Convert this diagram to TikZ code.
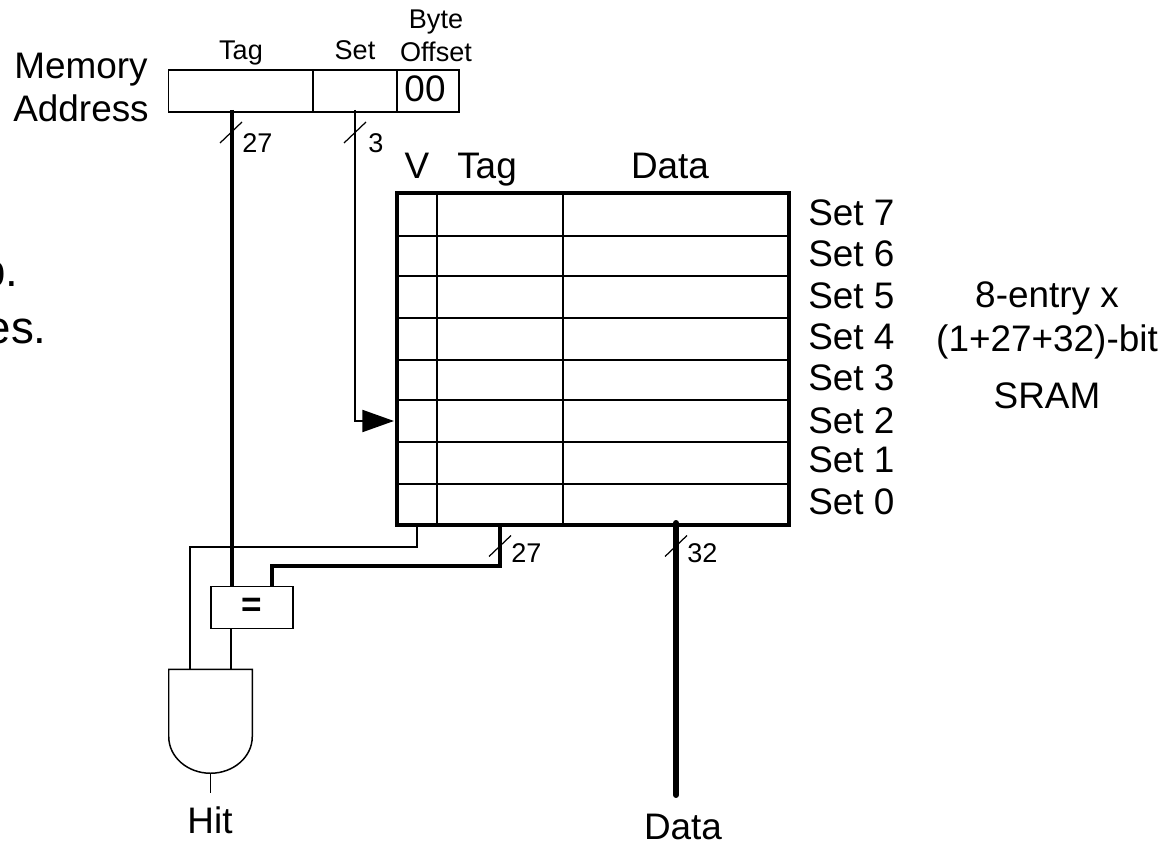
\documentclass[tikz,border=0pt]{standalone}
\usepackage{fontspec}
\setmainfont{Liberation Sans}
\usetikzlibrary{arrows.meta, positioning}

\tikzset{
    biglabel/.style={font=\fontsize{21}{25}\selectfont, inner sep=0, anchor=base},
    smalllabel/.style={font=\fontsize{15.4}{19.3}\selectfont, inner sep=0, anchor=base},
    field/.style={draw, rectangle, line width=0.9pt, inner sep=0, outer sep=0, minimum height=0.84cm},
    thinwire/.style={line width=0.85pt},
    midwire/.style={line width=1.2pt},
    buswire/.style={line width=1.9pt},
    fatwire/.style={line width=3.4pt, line cap=round},
    busmark/.style={line width=0.7pt},
    rowline/.style={line width=0.75pt}
}

\begin{document}
\begin{tikzpicture}
    \useasboundingbox (0,0) rectangle (23.3,-16.86);

    % Address fields
    \node[field, minimum width=2.89cm] (tagfield) at (4.815,-1.82) {};
    \node[field, minimum width=1.68cm, right=0 of tagfield] (setfield) {};
    \node[field, minimum width=1.24cm, right=0 of setfield] (offsetfield) {};

    \node[biglabel, align=center] (memaddr) at (1.62,-2.44) {Memory\\Address};
    \node[smalllabel] (taglabel) at (4.82,-1.2) {Tag};
    \node[smalllabel] (setlabel) at (7.1,-1.2) {Set};
    \node[smalllabel, align=center] (offsetlabel) at (8.72,-1.24) {Byte\\Offset};
    \node[biglabel] (zeros) at (8.5,-2.04) {00};

    % Cut off text on the left
    \node[biglabel, font=\fontsize{26}{26}\selectfont, anchor=base east] (cutone) at (0.38,-5.72) {p.};
    \node[biglabel, font=\fontsize{26}{26}\selectfont, anchor=base east] (cuttwo) at (0.94,-6.86) {es.};

    % Table
    \node[draw, rectangle, line width=1.9pt, inner sep=0, outer sep=0, minimum width=7.84cm, minimum height=6.64cm] (sram) at (11.86,-7.18) {};
    \draw[rowline] (7.94,-4.72) -- (15.78,-4.72);
    \draw[rowline] (7.94,-5.52) -- (15.78,-5.52);
    \draw[rowline] (7.94,-6.36) -- (15.78,-6.36);
    \draw[rowline] (7.94,-7.2) -- (15.78,-7.2);
    \draw[rowline] (7.94,-8) -- (15.78,-8);
    \draw[rowline] (7.94,-8.84) -- (15.78,-8.84);
    \draw[rowline] (7.94,-9.68) -- (15.78,-9.68);
    \draw[thinwire] (8.74,-3.86) -- (8.74,-10.5);
    \draw[thinwire] (11.26,-3.86) -- (11.26,-10.5);

    \node[biglabel] (vhead) at (8.34,-3.56) {V};
    \node[biglabel] (taghead) at (9.74,-3.56) {Tag};
    \node[biglabel] (datahead) at (13.4,-3.56) {Data};

    \node[biglabel, anchor=base west] (set7) at (16.16,-4.5) {Set 7};
    \node[biglabel, anchor=base west] (set6) at (16.16,-5.32) {Set 6};
    \node[biglabel, anchor=base west] (set5) at (16.16,-6.16) {Set 5};
    \node[biglabel, anchor=base west] (set4) at (16.16,-6.98) {Set 4};
    \node[biglabel, anchor=base west] (set3) at (16.16,-7.8) {Set 3};
    \node[biglabel, anchor=base west] (set2) at (16.16,-8.66) {Set 2};
    \node[biglabel, anchor=base west] (set1) at (16.16,-9.44) {Set 1};
    \node[biglabel, anchor=base west] (set0) at (16.16,-10.28) {Set 0};

    \node[biglabel, align=center] (sramlabel) at (20.94,-8.16) {8-entry x\\(1+27+32)-bit\\[7pt]SRAM};

    % Comparator and gate
    \node[field] (eqbox) at (5.04,-12.15) [minimum width=1.65cm] {\fontsize{20}{20}\selectfont\bfseries =};
    \node[inner sep=0, outer sep=0, minimum width=1.67cm, minimum height=1.35cm] (andgate) at (4.21,-14.06) {};
    \draw[thinwire] (andgate.south west) -- (andgate.north west) -- (andgate.north east) -- (andgate.south east)
        arc[start angle=0, end angle=-180, x radius=0.835, y radius=0.73];
    \coordinate (gateout) at ([yshift=-0.73cm]andgate.south);

    \node[biglabel] (hit) at (4.2,-16.66) {Hit};
    \node[biglabel] (dataout) at (13.66,-16.78) {Data};

    % Points on the wires
    \coordinate (tagtap) at (4.64,-2.2);
    \coordinate (settap) at (7.1,-2.2);
    \coordinate (setturn) at (7.1,-8.42);
    \coordinate (settip) at (7.88,-8.42);
    \coordinate (vtap) at (8.34,-10.5);
    \coordinate (vturn) at (3.8,-10.94);
    \coordinate (cmptap) at (10,-10.5);
    \coordinate (cmpturn) at (5.44,-11.32);
    \coordinate (eqout) at (4.62,-12.56);
    \coordinate (datatap) at (13.52,-10.46);
    \coordinate (dataend) at (13.52,-15.9);

    % Arrows
    \draw[buswire] (tagtap) -- (tagtap |- eqbox.north);
    \draw[midwire, -{Triangle[length=18pt, width=12.5pt]}] (settap) |- (setturn) -- (settip);
    \draw[thinwire] (vtap) |- (vturn) -- (vturn |- andgate.north);
    \draw[buswire] (cmptap) |- (cmpturn) -- (cmpturn |- eqbox.north);
    \draw[fatwire] (datatap) -- (dataend);
    \draw[thinwire] (eqout) -- (eqout |- andgate.north);
    \draw[thinwire, shorten >=0.26cm] (gateout) -- (hit.north -| gateout);

    % Bus marks and widths
    \draw[busmark] (4.62,-2.65) ++(-0.22,-0.21) -- ++(0.44,0.42);
    \node[smalllabel, anchor=base west] (tagwidth) at (4.84,-3.04) {27};
    \draw[busmark] (7.1,-2.65) ++(-0.22,-0.21) -- ++(0.44,0.42);
    \node[smalllabel, anchor=base west] (setwidth) at (7.36,-3.04) {3};
    \draw[busmark] (10,-10.92) ++(-0.22,-0.21) -- ++(0.44,0.42);
    \node[smalllabel, anchor=base west] (cmpwidth) at (10.22,-11.24) {27};
    \draw[busmark] (13.52,-10.92) ++(-0.22,-0.21) -- ++(0.44,0.42);
    \node[smalllabel, anchor=base west] (datawidth) at (13.74,-11.24) {32};

\end{tikzpicture}
\end{document}
